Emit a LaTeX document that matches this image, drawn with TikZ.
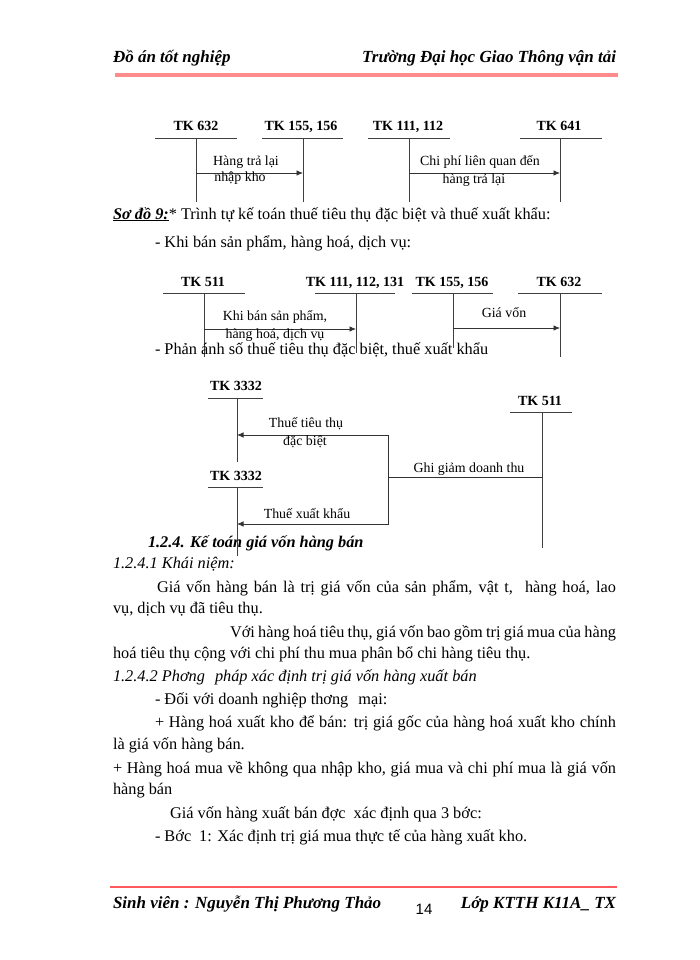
\documentclass[tikz,border=0pt]{standalone}
\usepackage{fontspec}
\setmainfont{Liberation Serif}
\newfontfamily\pagenofont{Liberation Sans}
\usetikzlibrary{arrows.meta,positioning}

\begin{document}
\begin{tikzpicture}[
    x=1pt, y=-1pt,
    every node/.style={inner sep=0pt, outer sep=0pt},
    acct/.style={font=\bfseries\fontsize{14}{16}\selectfont, anchor=base},
    tbar/.style={line width=0.8pt, black!75},
    flow/.style={-{Latex[length=6.5pt, width=5.5pt]}, line width=0.8pt, black!80},
    link/.style={line width=0.8pt, black!80},
    lbl/.style={font=\fontsize{13.9}{16}\selectfont, anchor=base},
    body/.style={font=\fontsize{16.3}{19}\selectfont, anchor=base west},
    title/.style={font=\bfseries\itshape\fontsize{17}{20}\selectfont},
    rule/.style={line width=3.5pt, red!45!white}
]
\useasboundingbox (0,0) rectangle (700,960);

% page header
\node[title, anchor=base west] (hleft) at (113,63) {Đồ án tốt nghiệp};
\node[title, anchor=base east] (hright) at (616,63) {Trường Đại học Giao Thông vận tải};
\draw[rule] (115,75) -- (618,75);

% TK 632 -> TK 155, 156
\node[acct] (tk632) at (196,131) {TK 632};
\node[acct] (tk155a) at (301,131) {TK 155, 156};
\draw[tbar] (155,138) -- (237,138) (196,138) -- (196,202);
\draw[tbar] (262,138) -- (343,138) (303,138) -- (303,202);
\coordinate (s632) at (196,173);
\coordinate (s155a) at (303,173);
\draw[flow] (s632) -- (s155a);
\node[lbl] (l1a) at (246,166) {Hàng trả lại};
\node[lbl] (l1b) at (240,182) {nhập kho};

% TK 111, 112 -> TK 641
\node[acct] (tk111) at (408,131) {TK 111, 112};
\node[acct] (tk641) at (559,131) {TK 641};
\draw[tbar] (368,138) -- (450,138) (409,138) -- (409,202);
\draw[tbar] (520,138) -- (602,138) (560,138) -- (560,202);
\coordinate (s111) at (409,173);
\coordinate (s641) at (560,173);
\draw[flow] (s111) -- (s641);
\node[lbl] (l2a) at (480,166) {Chi phí liên quan đến};
\node[lbl] (l2b) at (474,183) {hàng trả lại};

% so do 9
\node[body] (sd9) at (113,219) {\textbf{\textit{\underline{Sơ đồ 9:}}}* Trình tự kế toán thuế tiêu thụ đặc biệt và thuế xuất khẩu:};
\node[body] (khiban) at (155,247) {- Khi bán sản phẩm, hàng hoá, dịch vụ:};

% TK 511 -> TK 111, 112, 131
\node[acct] (tk511a) at (203,286) {TK 511};
\node[acct] (tk111b) at (355,286) {TK 111, 112, 131};
\draw[tbar] (163,293) -- (245,293) (204,293) -- (204,357);
\draw[tbar] (315,293) -- (395,293) (356,293) -- (356,353);
\coordinate (s511a) at (204,329);
\coordinate (s111b) at (356,329);
\draw[flow] (s511a) -- (s111b);
\node[lbl] (l3a) at (275,320) {Khi bán sản phẩm,};
\node[lbl] (l3b) at (275,338) {hàng hoá, dịch vụ};

% TK 155, 156 -> TK 632
\node[acct] (tk155b) at (452,286) {TK 155, 156};
\node[acct] (tk632b) at (559,286) {TK 632};
\draw[tbar] (412,293) -- (493,293) (453,293) -- (453,348);
\draw[tbar] (518,293) -- (602,293) (560,293) -- (560,357);
\coordinate (s155b) at (453,328);
\coordinate (s632b) at (560,328);
\draw[flow] (s155b) -- (s632b);
\node[lbl] (l4) at (504,317) {Giá vốn};

\node[body] (phananh) at (155,354) {- Phản ánh số thuế tiêu thụ đặc biệt, thuế xuất khẩu};

% TK 511 -> TK 3332
\node[acct] (tk3332a) at (236,390) {TK 3332};
\node[acct] (tk3332b) at (236,480) {TK 3332};
\node[acct] (tk511b) at (540,405) {TK 511};
\draw[tbar] (208,398) -- (263,398) (237,398) -- (237,462);
\draw[tbar] (208,487) -- (263,487) (237,487) -- (237,556);
\draw[tbar] (510,412) -- (572,412) (542,412) -- (542,548);
\coordinate (s511b) at (542,477);
\coordinate (split) at (388,477);
\coordinate (ttdb) at (237,435);
\coordinate (txk) at (237,524);
\draw[link] (s511b) -- (split);
\draw[flow] (split) |- (ttdb);
\draw[flow] (split) |- (txk);
\node[lbl] (l5a) at (306,427) {Thuế tiêu thụ};
\node[lbl] (l5b) at (305,445) {đặc biệt};
\node[lbl] (l6) at (469,472) {Ghi giảm doanh thu};
\node[lbl] (l7) at (307,518) {Thuế xuất khẩu};

% text below
\node[body, font=\bfseries\itshape\fontsize{16.3}{19}\selectfont] (h124) at (148,547) {1.2.4. Kế toán giá vốn hàng bán};
\node[body, font=\itshape\fontsize{16.3}{19}\selectfont] (h1241) at (113,568) {1.2.4.1 Khái niệm:};
\node[body] (p1) at (157,592) {\hbox to 459pt{Giá vốn hàng bán là trị giá vốn của sản phẩm, vật t,\hspace{6pt} hàng hoá, lao}};
\node[body] (p2) at (113,613) {vụ, dịch vụ đã tiêu thụ.};
\node[body] (p3) at (230,637) {\hbox to 386pt{Với hàng hoá tiêu thụ, giá vốn bao gồm trị giá mua của hàng}};
\node[body] (p4) at (113,658) {hoá tiêu thụ cộng với chi phí thu mua phân bổ chi hàng tiêu thụ.};
\node[body, font=\itshape\fontsize{16.3}{19}\selectfont] (h1242) at (113,681) {1.2.4.2 Phơng\hspace{10pt}pháp xác định trị giá vốn hàng xuất bán};
\node[body] (p5) at (155,704) {- Đối với doanh nghiệp thơng\hspace{10pt}mại:};
\node[body] (p6) at (155,727) {\hbox to 461pt{+ Hàng hoá xuất kho để bán: trị giá gốc của hàng hoá xuất kho chính}};
\node[body] (p7) at (113,749) {là giá vốn hàng bán.};
\node[body] (p8) at (113,773) {\hbox to 503pt{+ Hàng hoá mua về không qua nhập kho, giá mua và chi phí mua là giá vốn}};
\node[body] (p9) at (113,794) {hàng bán};
\node[body] (p10) at (170,818) {Giá vốn hàng xuất bán đợc\hspace{8pt}xác định qua 3 bớc:};
\node[body] (p11) at (155,841) {- Bớc\hspace{8pt}1: Xác định trị giá mua thực tế của hàng xuất kho.};

% page footer
\draw[rule, line width=2pt, red!65!white] (110,887) -- (617,887);
\node[title, anchor=base west] (fleft) at (113,908) {Sinh viên : Nguyễn Thị Phương Thảo};
\node[anchor=base, font=\pagenofont\fontsize{15}{18}\selectfont] (pageno) at (424,914) {14};
\node[title, anchor=base east] (fright) at (616,908) {Lớp KTTH K11A\_ TX};
\end{tikzpicture}
\end{document}
